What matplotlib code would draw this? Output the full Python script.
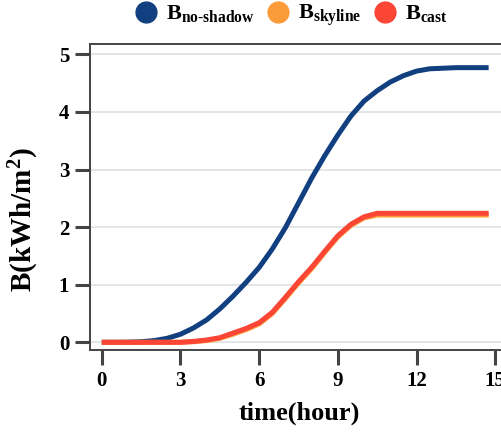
import matplotlib
matplotlib.use("Agg")
import matplotlib.pyplot as plt
from matplotlib.lines import Line2D

plt.rcParams["font.family"] = ["Liberation Serif", "DejaVu Serif"]
plt.rcParams["mathtext.fontset"] = "custom"
plt.rcParams["mathtext.rm"] = "Liberation Serif:bold"
plt.rcParams["mathtext.bf"] = "Liberation Serif:bold"
plt.rcParams["mathtext.it"] = "Liberation Serif:bold"

# Cumulative irradiation over the day
time_h = [0, 0.5, 1, 1.5, 2, 2.5, 3, 3.5, 4, 4.5, 5, 5.5, 6, 6.5, 7, 7.5,
          8, 8.5, 9, 9.5, 10, 10.5, 11, 11.5, 12, 12.5, 13, 13.5, 14, 14.75]
b_no_shadow = [0, 0, 0.002, 0.01, 0.03, 0.07, 0.14, 0.25, 0.39, 0.58, 0.80,
               1.04, 1.30, 1.62, 1.99, 2.42, 2.85, 3.24, 3.60, 3.93, 4.19,
               4.37, 4.52, 4.63, 4.71, 4.75, 4.76, 4.77, 4.77, 4.77]
b_skyline = [0, 0, 0, 0, 0, 0, 0, 0.01, 0.03, 0.07, 0.14, 0.22, 0.32, 0.50,
             0.76, 1.03, 1.28, 1.56, 1.83, 2.03, 2.16, 2.21, 2.21, 2.21, 2.21,
             2.21, 2.21, 2.21, 2.21, 2.21]
b_cast = [0, 0, 0, 0, 0, 0, 0, 0.015, 0.04, 0.08, 0.16, 0.24, 0.34, 0.52,
          0.78, 1.05, 1.30, 1.58, 1.85, 2.05, 2.18, 2.24, 2.24, 2.24, 2.24,
          2.24, 2.24, 2.24, 2.24, 2.24]

x_ticks = [0, 3, 6, 9, 12, 15]
y_ticks = [0, 1, 2, 3, 4, 5]

c_blue = "#123f80"
c_orange = "#fc9b3a"
c_red = "#fb4535"

fig = plt.figure(figsize=(5.01, 4.34), dpi=100)
ax = fig.add_axes([0.1796, 0.1935, 0.835, 0.705])

ax.plot(time_h, b_no_shadow, color=c_blue, lw=3.6, solid_capstyle="butt", zorder=3)
ax.plot(time_h, b_skyline, color=c_orange, lw=3.6, solid_capstyle="butt", zorder=3)
ax.plot(time_h, b_cast, color=c_red, lw=3.6, solid_capstyle="butt", zorder=4)

ax.set_xlim(-0.45, 15.5)
ax.set_ylim(-0.134, 5.18)
ax.set_xticks(x_ticks)
ax.set_yticks(y_ticks)
ax.set_xticklabels([str(v) for v in x_ticks])
ax.set_yticklabels([str(v) for v in y_ticks])
ax.grid(axis="y", color="#dde1e1", lw=1.2, zorder=0)
ax.set_axisbelow(True)

for side in ["left", "top", "bottom", "right"]:
    ax.spines[side].set_color("#444444")
    ax.spines[side].set_linewidth(1.4)

ax.tick_params(axis="both", direction="out", length=11, width=2.2,
               color="#444444", labelsize=15, pad=4)
for lbl in ax.get_xticklabels() + ax.get_yticklabels():
    lbl.set_fontweight("bold")

ax.set_xlabel("time(hour)", fontsize=19, fontweight="bold", labelpad=8)
ax.set_ylabel(r"B(kWh/m$^{2}$)", fontsize=21, fontweight="bold", va="center")
ax.yaxis.set_label_coords(-0.158, 0.425)

handles = [
    Line2D([], [], marker="o", ls="", ms=15, color=c_blue),
    Line2D([], [], marker="o", ls="", ms=15, color=c_orange),
    Line2D([], [], marker="o", ls="", ms=15, color=c_red),
]
labels = [r"$\mathbf{B_{no\text{-}shadow}}$", r"$\mathbf{B_{skyline}}$", r"$\mathbf{B_{cast}}$"]
fig.legend(handles, labels, loc="center", bbox_to_anchor=(0.582, 0.964),
           ncol=3, frameon=False, fontsize=16, handletextpad=0.4,
           columnspacing=0.55, handlelength=1.0)

fig.savefig("out.png", dpi=100)
